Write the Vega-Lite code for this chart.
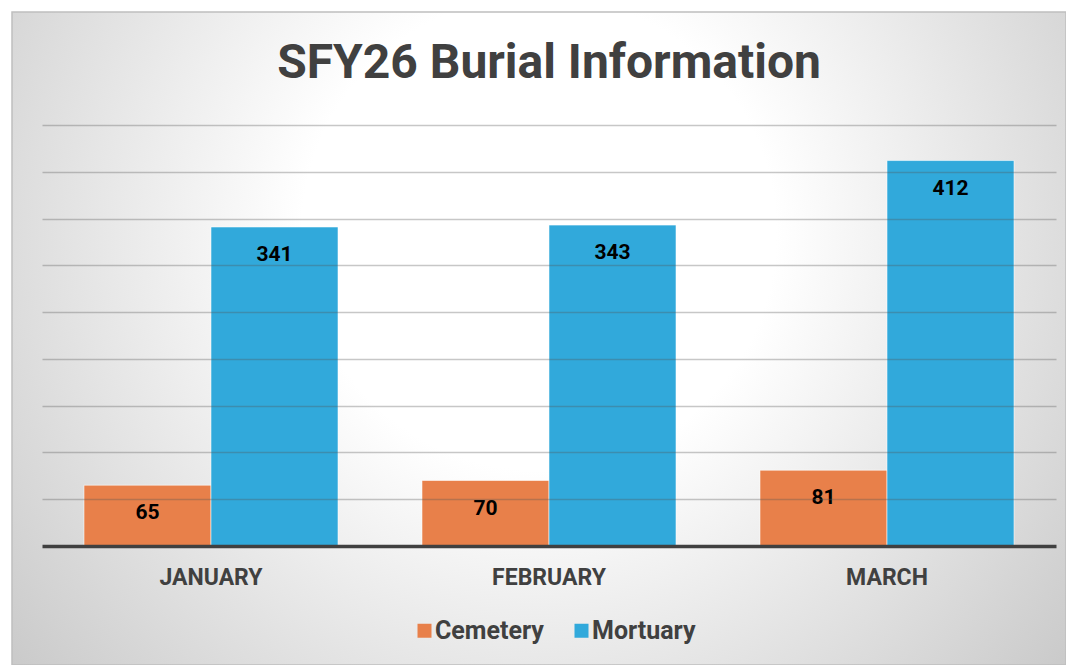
{
  "$schema": "https://vega.github.io/schema/vega-lite/v6.json",
  "autosize": {"type": "none"},
  "padding": {"left": 12, "top": 12, "right": 0, "bottom": 0},
  "width": 1054,
  "height": 653,
  "background": "#ffffff",
  "view": {
    "fill": {"gradient": "radial", "x1": 0.5, "y1": 0.4, "r1": 0, "x2": 0.5, "y2": 0.4, "r2": 0.75,
      "stops": [{"offset": 0, "color": "#ffffff"}, {"offset": 0.3, "color": "#ffffff"}, {"offset": 1, "color": "#bdbdbd"}]},
    "stroke": "#bfbfbf",
    "strokeWidth": 1.5
  },
  "title": {
    "text": "SFY26 Burial Information",
    "font": "Roboto",
    "fontSize": 48,
    "fontWeight": "bold",
    "color": "#404040",
    "anchor": "middle",
    "frame": "group",
    "baseline": "alphabetic",
    "offset": 0,
    "dy": 114,
    "dx": 10
  },
  "data": {
    "values": [
      {"month": "JANUARY", "type": "Cemetery", "value": 65},
      {"month": "JANUARY", "type": "Mortuary", "value": 341},
      {"month": "FEBRUARY", "type": "Cemetery", "value": 70},
      {"month": "FEBRUARY", "type": "Mortuary", "value": 343},
      {"month": "MARCH", "type": "Cemetery", "value": 81},
      {"month": "MARCH", "type": "Mortuary", "value": 412}
    ]
  },
  "encoding": {
    "x": {
      "field": "month",
      "type": "nominal",
      "sort": ["JANUARY", "FEBRUARY", "MARCH"],
      "scale": {"paddingInner": 0, "paddingOuter": 0.05917, "align": 0.75},
      "axis": {
        "orient": "bottom",
        "offset": -119,
        "title": null,
        "domain": false,
        "ticks": false,
        "tickSize": 0,
        "grid": false,
        "labelAngle": 0,
        "labelFont": "Roboto",
        "labelFontSize": 23,
        "labelFontWeight": "bold",
        "labelColor": "#404040",
        "labelBaseline": "alphabetic",
        "labelPadding": 38
      }
    },
    "xOffset": {
      "field": "type",
      "type": "nominal",
      "sort": ["Cemetery", "Mortuary"],
      "scale": {"paddingInner": 0, "paddingOuter": 0.3307}
    },
    "y": {
      "field": "value",
      "type": "quantitative",
      "scale": {"domain": [-127.2, 570.8], "nice": false, "zero": false},
      "axis": {
        "orient": "left",
        "offset": -30,
        "title": null,
        "domain": false,
        "labels": false,
        "grid": false,
        "ticks": true,
        "values": [0, 50, 100, 150, 200, 250, 300, 350, 400, 450],
        "tickSize": -1014,
        "tickColor": {"condition": {"test": "datum.value === 0", "value": "#404040"}, "value": "#555555"},
        "tickWidth": {"condition": {"test": "datum.value === 0", "value": 3.5}, "value": 1.3},
        "tickOpacity": {"condition": {"test": "datum.value === 0", "value": 1}, "value": 0.33},
        "zindex": 1
      }
    }
  },
  "layer": [
    {
      "mark": {"type": "bar", "stroke": "#ffffff", "strokeOpacity": 0.55, "strokeWidth": 1},
      "encoding": {
        "y2": {"datum": 0},
        "color": {
          "field": "type",
          "type": "nominal",
          "scale": {"domain": ["Cemetery", "Mortuary"], "range": ["#E8804A", "#31A9DB"]},
          "legend": {
            "orient": "none",
            "legendX": 400,
            "legendY": 606,
            "direction": "horizontal",
            "title": null,
            "symbolType": "square",
            "symbolSize": 196,
            "symbolStrokeWidth": 0,
            "symbolOpacity": 1,
            "labelFont": "Roboto",
            "labelFontSize": 25,
            "labelFontWeight": "bold",
            "labelColor": "#404040",
            "labelOffset": -2,
            "columnPadding": 25
          }
        }
      }
    },
    {
      "mark": {"type": "text", "dy": 34, "baseline": "alphabetic", "align": "center", "font": "Roboto", "fontSize": 21, "fontWeight": "bold", "color": "#000000"},
      "encoding": {
        "text": {"field": "value", "type": "quantitative"}
      }
    }
  ]
}
